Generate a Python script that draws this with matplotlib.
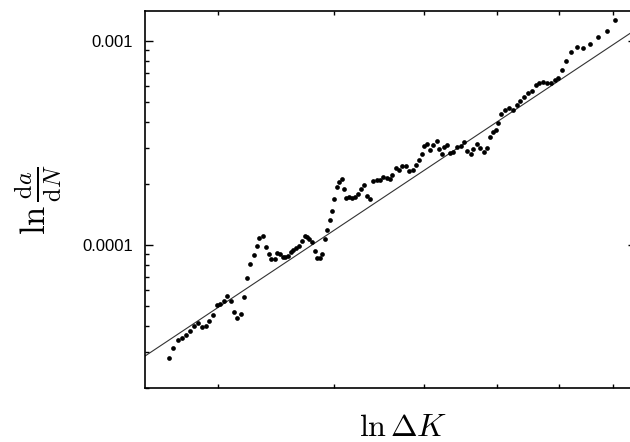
import matplotlib
matplotlib.use("Agg")
import matplotlib.pyplot as plt
import numpy as np
from matplotlib.ticker import FixedLocator, FixedFormatter, NullFormatter, LogLocator

plt.rcParams['font.family'] = ['Liberation Sans', 'DejaVu Sans']
plt.rcParams['mathtext.fontset'] = 'cm'

# measured points: stress intensity range and crack growth rate
delta_K = [2.656, 2.684, 2.714, 2.743, 2.771, 2.800, 2.826, 2.854, 2.883, 2.910,
           2.936, 2.965, 2.993, 3.017, 3.045, 3.070, 3.096, 3.124, 3.148, 3.177,
           3.203, 3.227, 3.251, 3.278, 3.303, 3.324, 3.353, 3.378, 3.403, 3.425,
           3.454, 3.476, 3.500, 3.524, 3.546, 3.570, 3.595, 3.618, 3.645, 3.672,
           3.697, 3.722, 3.746, 3.764, 3.790, 3.815, 3.840, 3.863, 3.885, 3.911,
           3.934, 3.960, 3.983, 4.006, 4.030, 4.056, 4.078, 4.099, 4.124, 4.155,
           4.186, 4.217, 4.249, 4.281, 4.313, 4.345, 4.378, 4.411, 4.449, 4.488,
           4.521, 4.561, 4.595, 4.624, 4.664, 4.705, 4.744, 4.787, 4.827, 4.868,
           4.908, 4.949, 4.978, 5.011, 5.041, 5.082, 5.124, 5.168, 5.201, 5.232,
           5.256, 5.298, 5.341, 5.385, 5.439, 5.485, 5.524, 5.572, 5.621, 5.660,
           5.708, 5.755, 5.808, 5.852, 5.904, 5.944, 5.985, 6.023, 6.063, 6.124,
           6.185, 6.239, 6.302, 6.357, 6.420, 6.484, 6.544, 6.606, 6.667, 6.725,
           6.793, 6.861, 6.926, 6.992, 7.062, 7.127, 7.210, 7.319, 7.429, 7.565,
           7.723, 7.882, 8.046]

da_dN = [2.80e-5, 3.13e-5, 3.41e-5, 3.51e-5, 3.62e-5, 3.79e-5, 4.01e-5, 4.13e-5, 3.96e-5, 4.00e-5,
         4.24e-5, 4.55e-5, 5.06e-5, 5.12e-5, 5.30e-5, 5.64e-5, 5.30e-5, 4.68e-5, 4.40e-5, 4.59e-5,
         5.54e-5, 6.92e-5, 8.10e-5, 8.90e-5, 9.89e-5, 1.082e-4, 1.107e-4, 9.81e-5, 9.00e-5, 8.54e-5,
         8.54e-5, 9.17e-5, 9.00e-5, 8.76e-5, 8.70e-5, 8.86e-5, 9.21e-5, 9.45e-5, 9.63e-5, 9.89e-5,
         1.050e-4, 1.107e-4, 1.098e-4, 1.074e-4, 1.029e-4, 9.31e-5, 8.64e-5, 8.61e-5, 9.00e-5, 1.066e-4,
         1.189e-4, 1.322e-4, 1.473e-4, 1.687e-4, 1.924e-4, 2.036e-4, 2.099e-4, 1.881e-4, 1.706e-4, 1.719e-4,
         1.700e-4, 1.713e-4, 1.778e-4, 1.881e-4, 1.968e-4, 1.739e-4, 1.671e-4, 2.059e-4, 2.082e-4, 2.082e-4,
         2.142e-4, 2.130e-4, 2.106e-4, 2.203e-4, 2.385e-4, 2.319e-4, 2.440e-4, 2.440e-4, 2.293e-4, 2.332e-4,
         2.467e-4, 2.596e-4, 2.784e-4, 3.057e-4, 3.127e-4, 2.923e-4, 3.092e-4, 3.246e-4, 2.946e-4, 2.793e-4,
         3.006e-4, 3.092e-4, 2.815e-4, 2.867e-4, 3.012e-4, 3.057e-4, 3.187e-4, 2.873e-4, 2.793e-4, 2.956e-4,
         3.127e-4, 2.979e-4, 2.841e-4, 2.989e-4, 3.384e-4, 3.560e-4, 3.642e-4, 3.977e-4, 4.363e-4, 4.590e-4,
         4.678e-4, 4.590e-4, 4.856e-4, 5.063e-4, 5.315e-4, 5.542e-4, 5.701e-4, 6.084e-4, 6.245e-4, 6.315e-4,
         6.245e-4, 6.223e-4, 6.402e-4, 6.563e-4, 7.184e-4, 8.006e-4, 8.801e-4, 9.292e-4, 9.219e-4, 9.667e-4,
         1.046e-3, 1.123e-3, 1.261e-3]

# Paris law fit  da/dN = C * dK^m
paris_C = 1.79e-6
paris_m = 3.02

x_ticks = [3, 4, 5, 6, 7, 8]
y_ticks = [1e-4, 1e-3]
y_tick_labels = ['0.0001', '0.001']

xlim = (2.502, 8.481)
ylim = (1.991e-5, 1.403e-3)

fig = plt.figure(figsize=(6.3, 4.42), dpi=100)
ax = fig.add_axes([0.2302, 0.1222, 0.7794, 0.853])

ax.set_xscale('log')
ax.set_yscale('log')

xfit = np.linspace(xlim[0], xlim[1], 200)
ax.plot(xfit, paris_C * xfit ** paris_m, color='#333333', lw=0.8, zorder=2)
ax.plot(delta_K, da_dN, 'o', color='black', ms=3.4, mec='none', zorder=3)

ax.set_xlim(*xlim)
ax.set_ylim(*ylim)

ax.xaxis.set_major_locator(FixedLocator(x_ticks))
ax.xaxis.set_major_formatter(NullFormatter())
ax.xaxis.set_minor_locator(FixedLocator([]))
ax.xaxis.set_minor_formatter(NullFormatter())

ax.yaxis.set_major_locator(FixedLocator(y_ticks))
ax.yaxis.set_major_formatter(FixedFormatter(y_tick_labels))
ax.yaxis.set_minor_locator(LogLocator(base=10, subs=np.arange(2, 10)))
ax.yaxis.set_minor_formatter(NullFormatter())

ax.tick_params(axis='both', which='both', direction='in', top=True, right=True,
               width=1.0, colors='black')
ax.tick_params(axis='x', which='major', length=3)
ax.tick_params(axis='y', which='major', length=5.8, pad=8.5, labelsize=12)
ax.tick_params(axis='y', which='minor', length=3)

for s in ax.spines.values():
    s.set_linewidth(1.2)

ax.set_xlabel(r'$\ln\Delta K$', fontsize=23)
ax.set_ylabel(r'$\ln\frac{\mathrm{d}a}{\mathrm{d}N}$', fontsize=25)
ax.xaxis.set_label_coords(0.525, -0.066)
ax.yaxis.set_label_coords(-0.165, 0.5)

fig.savefig('out.png', dpi=100)
